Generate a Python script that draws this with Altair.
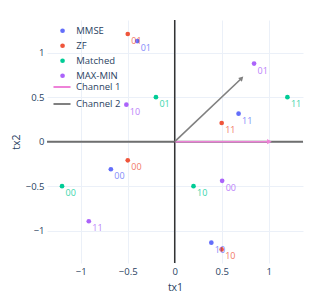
import altair as alt
import pandas as pd
import numpy as np

schemes = ["MMSE", "ZF", "Matched", "MAX-MIN"]
scheme_colors = ["#636efa", "#EF553B", "#00cc96", "#ab63fa"]

mmse_x = [-0.40, 0.68, -0.68, 0.39]
mmse_y = [1.13, 0.315, -0.31, -1.135]
mmse_lbl = ["01", "11", "00", "10"]

zf_x = [-0.50, 0.50, -0.50, 0.50]
zf_y = [1.21, 0.21, -0.21, -1.21]
zf_lbl = ["01", "11", "00", "10"]

matched_x = [-0.20, 1.20, -1.20, 0.20]
matched_y = [0.50, 0.50, -0.50, -0.50]
matched_lbl = ["01", "11", "00", "10"]

maxmin_x = [0.845, -0.515, -0.915, 0.505]
maxmin_y = [0.877, 0.416, -0.894, -0.44]
maxmin_lbl = ["01", "10", "11", "00"]

channels = ["Channel 1", "Channel 2"]
channel_x = [1.0, 0.707]
channel_y = [0.0, 0.707]
channel_colors = ["#ee82d8", "#808080"]

tick_vals = [-1, -0.5, 0, 0.5, 1]

rows = []
for name, xs, ys, ls in [("MMSE", mmse_x, mmse_y, mmse_lbl), ("ZF", zf_x, zf_y, zf_lbl),
                         ("Matched", matched_x, matched_y, matched_lbl),
                         ("MAX-MIN", maxmin_x, maxmin_y, maxmin_lbl)]:
    for x, y, l in zip(xs, ys, ls):
        rows.append({"scheme": name, "x": x, "y": y, "label": l})
pts = pd.DataFrame(rows)

ch = pd.DataFrame({"channel": channels, "x0": [0, 0], "y0": [0, 0],
                   "x": channel_x, "y": channel_y})
ch["angle"] = 90 - np.degrees(np.arctan2(ch["y"], ch["x"]))

FONT = "Open Sans"
TXT = "#2a3f5f"
GRID = "#ebf0f8"

xscale = alt.Scale(domain=[-1.36, 1.366], nice=False, zero=False)
yscale = alt.Scale(domain=[-1.363, 1.367], nice=False, zero=False)

xaxis = alt.Axis(values=tick_vals, format="~g", grid=True, gridColor=GRID, domain=False,
                 ticks=False, labelFont=FONT, labelFontSize=9.5, labelColor=TXT,
                 labelPadding=3, title="tx1", titleFont=FONT, titleFontSize=10.5,
                 titleColor=TXT, titleFontWeight="normal", titleY=24,
                 titleBaseline="middle")
yaxis = alt.Axis(values=tick_vals, format="~g", grid=True, gridColor=GRID, domain=False,
                 ticks=False, labelFont=FONT, labelFontSize=9.5, labelColor=TXT,
                 labelPadding=3, title="tx2", titleFont=FONT, titleFontSize=10.5,
                 titleColor=TXT, titleFontWeight="normal", titleX=-31, titleY=121.5,
                 titleAngle=270, titleBaseline="middle", titleAlign="center")

color_scale = alt.Scale(domain=schemes, range=scheme_colors)
stroke_scale = alt.Scale(domain=channels, range=channel_colors)

base_axes = alt.Chart(pd.DataFrame({"x": [0], "y": [0]})).mark_point(opacity=0).encode(
    x=alt.X("x:Q", scale=xscale, axis=xaxis),
    y=alt.Y("y:Q", scale=yscale, axis=yaxis),
)

hzero = alt.Chart(pd.DataFrame({"v": [0]})).mark_rule(color="#6f6f6f", strokeWidth=2).encode(
    y=alt.Y("v:Q", scale=yscale))
vzero = alt.Chart(pd.DataFrame({"v": [0]})).mark_rule(color="#333333", strokeWidth=1.5).encode(
    x=alt.X("v:Q", scale=xscale))

lines = alt.Chart(ch).mark_rule(strokeWidth=1.6).encode(
    x=alt.X("x0:Q", scale=xscale), y=alt.Y("y0:Q", scale=yscale),
    x2="x:Q", y2="y:Q",
    stroke=alt.Stroke("channel:N", scale=stroke_scale,
                      legend=alt.Legend(title=None, orient="none", legendX=5, legendY=57,
                                        symbolType="stroke", symbolSize=290,
                                        symbolStrokeWidth=2, labelFont=FONT,
                                        labelFontSize=9.5, labelColor=TXT,
                                        labelOffset=4, rowPadding=2, padding=0)),
)
heads = alt.Chart(ch).mark_point(shape="triangle", filled=True, size=28, opacity=1).encode(
    x=alt.X("x:Q", scale=xscale), y=alt.Y("y:Q", scale=yscale),
    angle=alt.Angle("angle:Q", scale=None),
    color=alt.Color("channel:N", scale=stroke_scale, legend=None),
)

points = alt.Chart(pts).mark_circle(size=22, opacity=1).encode(
    x=alt.X("x:Q", scale=xscale), y=alt.Y("y:Q", scale=yscale),
    fill=alt.Fill("scheme:N", scale=color_scale,
                  legend=alt.Legend(title=None, orient="none", legendX=10.8, legendY=6,
                                    symbolType="circle", symbolSize=22, labelFont=FONT,
                                    labelFontSize=9.5, labelColor=TXT, labelOffset=9,
                                    rowPadding=4, padding=0)),
)
texts = alt.Chart(pts).mark_text(align="left", baseline="middle", dx=3.5, dy=7,
                                 font=FONT, fontSize=9, opacity=0.8).encode(
    x=alt.X("x:Q", scale=xscale), y=alt.Y("y:Q", scale=yscale),
    text="label:N",
    color=alt.Color("scheme:N", scale=color_scale, legend=None),
)

chart = alt.layer(base_axes, hzero, vzero, lines, heads, points, texts).resolve_scale(
    color="independent"
).properties(
    width=256, height=243,
    autosize=alt.AutoSizeParams(type="none"),
    padding={"left": 39, "top": 12, "right": 20, "bottom": 30},
    background="white",
).configure_view(stroke=None)

chart.save("out.html", embed_options={"renderer": "svg", "actions": False})
